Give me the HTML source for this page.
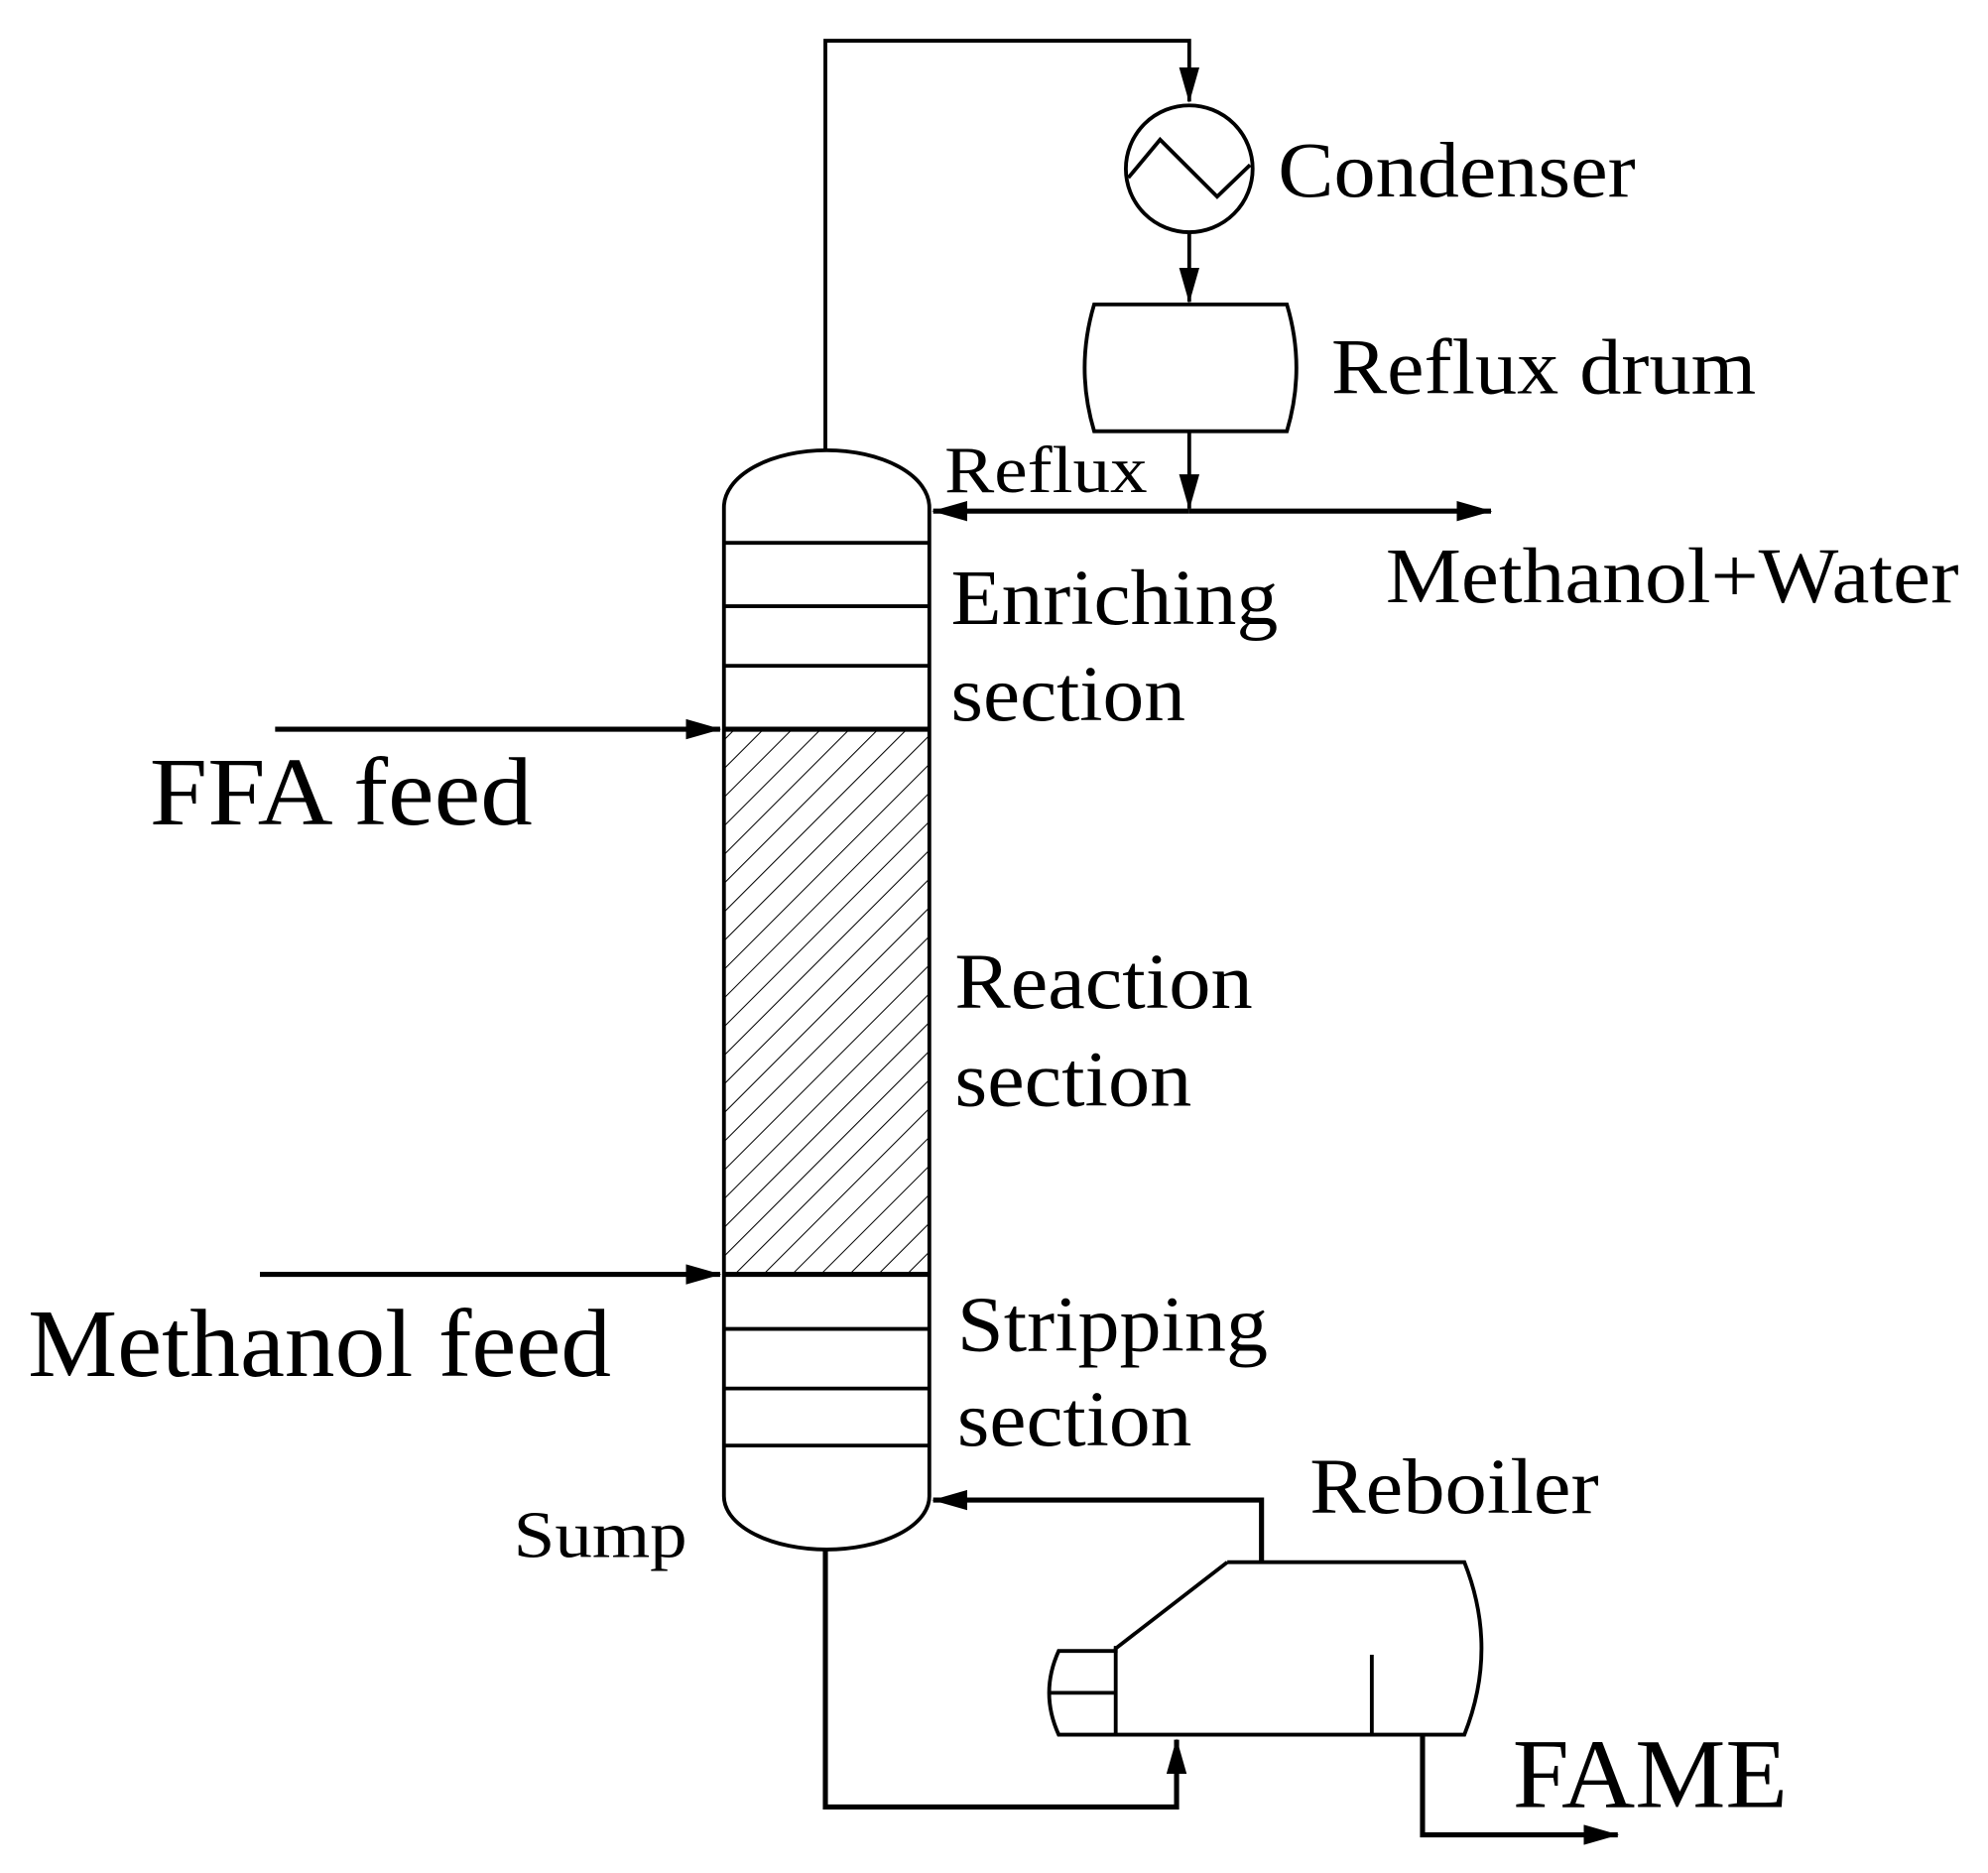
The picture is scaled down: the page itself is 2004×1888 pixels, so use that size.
<!DOCTYPE html>
<html><head><style>html,body{margin:0;padding:0;background:#fff}svg{display:block}text{font-family:"Liberation Serif",serif;fill:#000}</style></head>
<body>
<svg width="2004" height="1888" viewBox="0 0 1568 1477" xmlns="http://www.w3.org/2000/svg">
<defs>
<pattern id="h" patternUnits="userSpaceOnUse" width="16" height="16" patternTransform="rotate(45)">
<line x1="0" y1="0" x2="0" y2="16" stroke="#000" stroke-width="1.6"/>
</pattern>
<marker id="b" markerWidth="28" markerHeight="16" refX="27" refY="8" orient="auto" markerUnits="userSpaceOnUse"><path d="M0,0 L28,8 L0,16 z" fill="#000"/></marker>
</defs>
<g fill="none" stroke="#000" stroke-width="3">
<rect x="571" y="575" width="162" height="430" fill="url(#h)" stroke="none"/>
<path d="M571,400 A81,45 0 0 1 733,400 L733,1180 A81,42 0 0 1 571,1180 Z"/>
<line x1="571" y1="428" x2="733" y2="428"/>
<line x1="571" y1="478" x2="733" y2="478"/>
<line x1="571" y1="525" x2="733" y2="525"/>
<line x1="571" y1="575" x2="733" y2="575" stroke-width="4"/>
<line x1="571" y1="1005" x2="733" y2="1005" stroke-width="4"/>
<line x1="571" y1="1048" x2="733" y2="1048"/>
<line x1="571" y1="1095" x2="733" y2="1095"/>
<line x1="571" y1="1140" x2="733" y2="1140"/>
<path d="M651,355 L651,32 L938,32 L938,80" marker-end="url(#b)"/>
<circle cx="938" cy="133" r="50"/>
<path d="M890,140 L915,110 L960,155 L986,130"/>
<path d="M938,183 L938,238" marker-end="url(#b)"/>
<path d="M863,240 L1015,240 Q1030,290 1015,340 L863,340 Q848,290 863,240 Z"/>
<path d="M938,340 L938,401" marker-end="url(#b)"/>
<path d="M938,403 L736,403" stroke-width="4" marker-end="url(#b)"/>
<path d="M938,403 L1176,403" stroke-width="4" marker-end="url(#b)"/>
<path d="M217,575 L568,575" stroke-width="4" marker-end="url(#b)"/>
<path d="M205,1005 L568,1005" stroke-width="4" marker-end="url(#b)"/>
<path d="M995,1232 L995,1183 L736,1183" stroke-width="4" marker-end="url(#b)"/>
<path d="M968,1232 L1155,1232 Q1182,1300 1155,1368 L835,1368 Q820,1335 835,1302 L880,1302 L880,1300 L968,1232"/>
<line x1="880" y1="1298" x2="880" y2="1368"/>
<line x1="828" y1="1335" x2="880" y2="1335"/>
<line x1="1082" y1="1305" x2="1082" y2="1368"/>
<path d="M651,1222 L651,1425 L928,1425 L928,1372" stroke-width="4" marker-end="url(#b)"/>
<path d="M1122,1368 L1122,1447 L1276,1447" stroke-width="4" marker-end="url(#b)"/>
</g>
<g font-size="62" lengthAdjust="spacingAndGlyphs">
<text x="1008" y="155" textLength="282" lengthAdjust="spacingAndGlyphs">Condenser</text>
<text x="1050" y="310" textLength="335" lengthAdjust="spacingAndGlyphs">Reflux drum</text>
<text x="745" y="388" font-size="52" textLength="160" lengthAdjust="spacingAndGlyphs">Reflux</text>
<text x="1093" y="475" textLength="452" lengthAdjust="spacingAndGlyphs">Methanol+Water</text>
<text x="750" y="492" textLength="258" lengthAdjust="spacingAndGlyphs">Enriching</text>
<text x="750" y="568" textLength="185" lengthAdjust="spacingAndGlyphs">section</text>
<text x="118" y="650" font-size="76" textLength="302" lengthAdjust="spacingAndGlyphs">FFA feed</text>
<text x="753" y="795" textLength="235" lengthAdjust="spacingAndGlyphs">Reaction</text>
<text x="753" y="872" textLength="187" lengthAdjust="spacingAndGlyphs">section</text>
<text x="22" y="1085" font-size="76" textLength="460" lengthAdjust="spacingAndGlyphs">Methanol feed</text>
<text x="755" y="1065" textLength="245" lengthAdjust="spacingAndGlyphs">Stripping</text>
<text x="755" y="1140" textLength="185" lengthAdjust="spacingAndGlyphs">section</text>
<text x="405" y="1228" font-size="52" textLength="137" lengthAdjust="spacingAndGlyphs">Sump</text>
<text x="1033" y="1193" textLength="228" lengthAdjust="spacingAndGlyphs">Reboiler</text>
<text x="1193" y="1425" font-size="78" textLength="217" lengthAdjust="spacingAndGlyphs">FAME</text>
</g>
</svg>
</body></html>
